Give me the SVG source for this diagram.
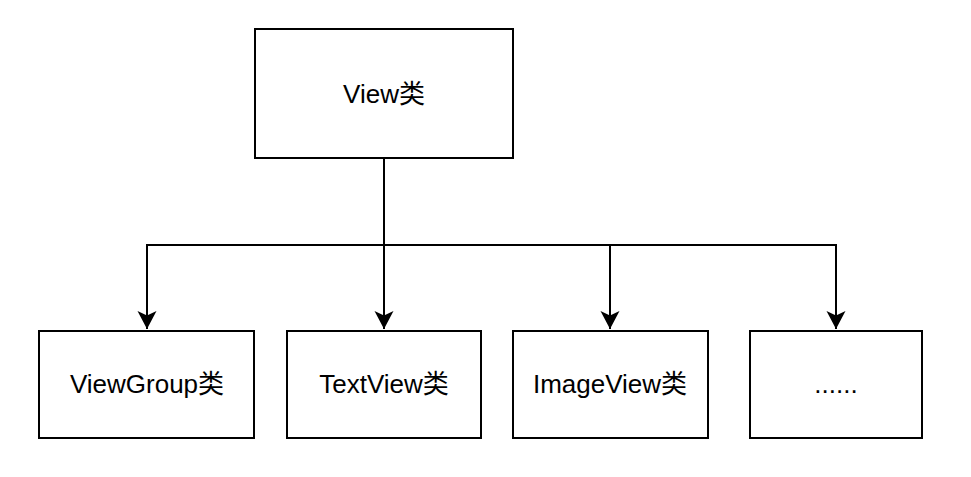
<svg xmlns="http://www.w3.org/2000/svg" width="971" height="477" viewBox="0 0 971 477">
<style>
.box{fill:#fff;stroke:#000;stroke-width:2}
.lbl{font-family:"Liberation Sans","Noto Sans CJK SC",sans-serif;font-size:26px;fill:#000;text-anchor:middle}
.con{fill:none;stroke:#000;stroke-width:2}
</style>
<defs>
<marker id="arr" markerUnits="userSpaceOnUse" markerWidth="24" markerHeight="24" viewBox="0 0 24 24" refX="20" refY="12" orient="auto">
<path d="M2,2.5 L20,12 L2,21.5 L6.5,12 Z" fill="#000"/>
</marker>
</defs>
<g id="connectors">
<path class="con" d="M384,158 V245 H147 V329" marker-end="url(#arr)"/>
<path class="con" d="M384,158 V329" marker-end="url(#arr)"/>
<path class="con" d="M384,245 H610 V329" marker-end="url(#arr)"/>
<path class="con" d="M384,245 H836 V329" marker-end="url(#arr)"/>
</g>
<g id="view">
<rect class="box" x="255" y="29" width="258" height="129"/>
<text class="lbl" x="384" y="103">View类</text>
</g>
<g id="viewgroup">
<rect class="box" x="39" y="331" width="215" height="107"/>
<text class="lbl" x="147" y="393">ViewGroup类</text>
</g>
<g id="textview">
<rect class="box" x="287" y="331" width="194" height="107"/>
<text class="lbl" x="384" y="393">TextView类</text>
</g>
<g id="imageview">
<rect class="box" x="513" y="331" width="195" height="107"/>
<text class="lbl" x="610" y="393">ImageView类</text>
</g>
<g id="more">
<rect class="box" x="750" y="331" width="172" height="107"/>
<text class="lbl" x="836" y="393">......</text>
</g>
</svg>
